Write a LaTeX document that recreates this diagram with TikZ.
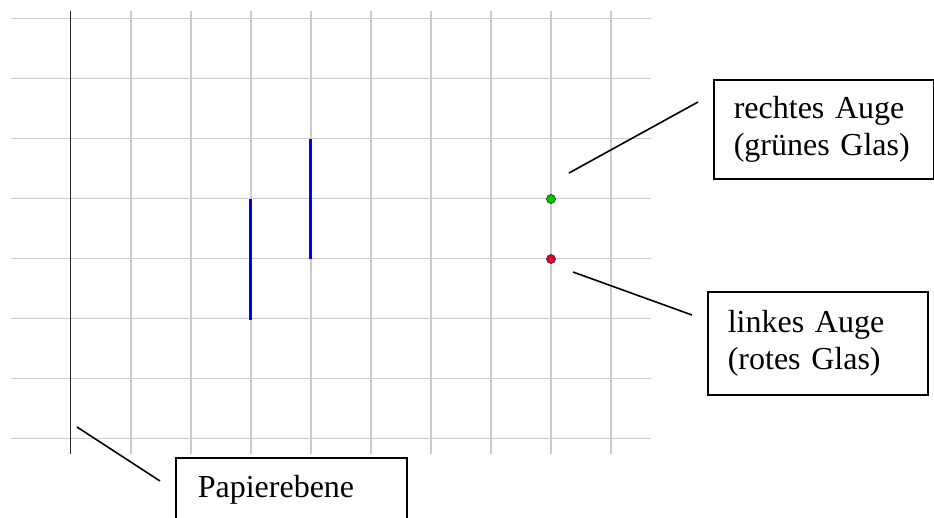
\documentclass[tikz,border=0pt]{standalone}
\usepackage{fontspec}
\setmainfont{Liberation Serif}
\definecolor{gridgray}{RGB}{204,204,204}
\definecolor{eyegreen}{RGB}{0,200,0}
\definecolor{eyered}{RGB}{230,0,45}
\begin{document}
\begin{tikzpicture}[x=1pt,y=-1pt,
  gridline/.style={draw=gridgray, line width=1.6pt},
  plane/.style={draw=black!85, line width=1.6pt},
  bar/.style={draw=blue, line width=3pt},
  eye/.style={circle, draw=black!80, line width=0.7pt, minimum size=9pt, inner sep=0pt},
  leader/.style={draw=black, line width=1.6pt},
  callout/.style={draw=black, line width=1.6pt, anchor=north west, align=left,
    font=\fontsize{32}{37}\selectfont}]
\clip (0,0) rectangle (934,517);
\fill[white] (0,0) rectangle (934,517);
\foreach \y in {18.5,78.5,...,438.5} \draw[gridline] (11,\y) -- (651,\y);
\foreach \x in {130.7,190.7,...,610.7} \draw[gridline] (\x,11) -- (\x,454);
\draw[plane] (70.5,11) -- (70.5,454);
\draw[bar] (250.7,198.5) -- (250.7,320);
\draw[bar] (310.7,138.5) -- (310.7,259);
\node[eye, fill=eyegreen] (reye) at (551,199) {};
\node[eye, fill=eyered] (leye) at (551,259) {};
\node[callout, text width=180pt, inner xsep=20pt, minimum height=99pt] (rbox) at (713,79) {rechtes Auge\\(grünes Glas)};
\node[callout, text width=180pt, inner xsep=20pt, minimum height=103pt] (lbox) at (707,291) {linkes Auge\\(rotes Glas)};
\node[callout, text width=187pt, inner xsep=22pt, inner ysep=19pt, text height=21pt, text depth=60pt] (pbox) at (175,457) {Papierebene};
\coordinate (a1) at (569,173); \coordinate (a2) at (698,102);
\coordinate (b1) at (573,272); \coordinate (b2) at (692,315);
\coordinate (c1) at (77,427); \coordinate (c2) at (160,481);
\draw[leader] (a1) -- (a2);
\draw[leader] (b1) -- (b2);
\draw[leader] (c1) -- (c2);
\end{tikzpicture}
\end{document}
